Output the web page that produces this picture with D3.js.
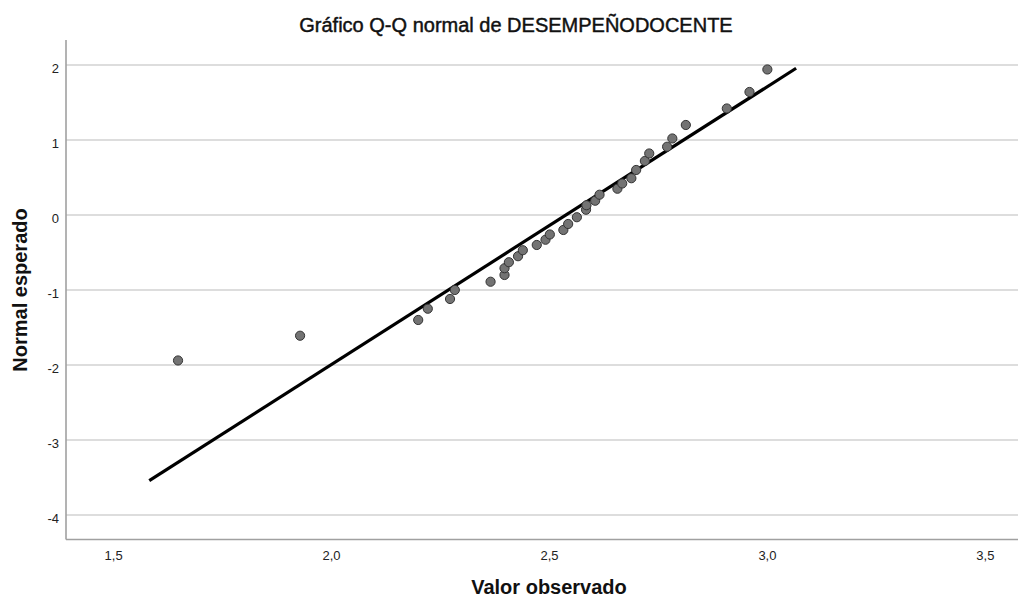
<!DOCTYPE html>
<html lang="es">
<head>
  <meta charset="UTF-8">
  <title>Gráfico Q-Q normal</title>
  <script src="https://d3js.org/d3.v7.min.js"></script>
  <style>
    body { margin: 0; background: white; }
    text { font-family: "Liberation Sans", Arial, sans-serif; }
    .tick text { font-size: 13px; fill: #222; }
  </style>
</head>
<body>
<svg id="qq" width="1023" height="598"></svg>

<script>
  const observed = [1.649, 1.929, 2.200, 2.222, 2.273, 2.284, 2.366, 2.398, 2.398, 2.408,
                    2.429, 2.440, 2.472, 2.492, 2.502, 2.533, 2.544, 2.564, 2.585, 2.586,
                    2.606, 2.616, 2.657, 2.668, 2.689, 2.700, 2.720, 2.730, 2.771, 2.783,
                    2.814, 2.908, 2.960, 3.001];
  const expected = [-1.94, -1.61, -1.40, -1.25, -1.12, -1.00, -0.89, -0.80, -0.71, -0.63,
                    -0.55, -0.47, -0.40, -0.33, -0.26, -0.20, -0.12, -0.03, 0.07, 0.13,
                    0.19, 0.27, 0.35, 0.42, 0.49, 0.60, 0.72, 0.82, 0.91, 1.02,
                    1.20, 1.42, 1.64, 1.94];

  // Reference line (ends as drawn)
  const lineX = [1.583, 3.067];
  const lineY = [-3.543, 1.956];

  const xTicks = [1.5, 2.0, 2.5, 3.0, 3.5];
  const yTicks = [-4, -3, -2, -1, 0, 1, 2];

  const plotLeft = 66, plotRight = 1018, plotTop = 40, plotBottom = 539.5;

  const svg = d3.select("#qq");

  const x = d3.scaleLinear().domain([1.392, 3.576]).range([plotLeft, plotRight]);
  const y = d3.scaleLinear().domain([-4.327, 2.333]).range([plotBottom, plotTop]);

  // SPSS style labels: comma decimals, plain hyphen for minus
  const es = d3.formatLocale({decimal: ",", thousands: ".", grouping: [3], currency: ["", "€"], minus: "-"});

  // Horizontal grid lines
  svg.append("g")
    .selectAll("line")
    .data(yTicks)
    .join("line")
    .attr("x1", plotLeft).attr("x2", plotRight)
    .attr("y1", d => y(d)).attr("y2", d => y(d))
    .attr("stroke", "#d2d2d2")
    .attr("stroke-width", 1.3);

  // Axes
  const yAxis = svg.append("g")
    .attr("transform", `translate(${plotLeft},0)`)
    .call(d3.axisLeft(y).tickValues(yTicks).tickSize(0).tickPadding(7).tickFormat(es.format("d")));
  yAxis.selectAll(".tick text").attr("dy", "0.55em");

  const xAxis = svg.append("g")
    .attr("transform", `translate(0,${plotBottom})`)
    .call(d3.axisBottom(x).tickValues(xTicks).tickSize(0).tickPadding(11).tickFormat(es.format(".1f")));

  [yAxis, xAxis].forEach(a => a.select(".domain").remove());

  svg.append("line")
    .attr("x1", plotLeft).attr("x2", plotLeft).attr("y1", plotTop).attr("y2", plotBottom)
    .attr("stroke", "#a0a0a0").attr("stroke-width", 1.6);
  svg.append("line")
    .attr("x1", plotLeft).attr("x2", plotRight).attr("y1", plotBottom).attr("y2", plotBottom)
    .attr("stroke", "#a0a0a0").attr("stroke-width", 1.6);

  // Reference line
  svg.append("line")
    .attr("x1", x(lineX[0])).attr("y1", y(lineY[0]))
    .attr("x2", x(lineX[1])).attr("y2", y(lineY[1]))
    .attr("stroke", "black")
    .attr("stroke-width", 3.2);

  // Points
  svg.append("g")
    .selectAll("circle")
    .data(observed.map((d, i) => [d, expected[i]]))
    .join("circle")
    .attr("cx", d => x(d[0]))
    .attr("cy", d => y(d[1]))
    .attr("r", 4.6)
    .attr("fill", "#737373")
    .attr("stroke", "#333")
    .attr("stroke-width", 1);

  // Titles
  svg.append("text")
    .attr("x", 516).attr("y", 32)
    .attr("text-anchor", "middle")
    .attr("font-size", 20)
    .attr("stroke", "#111").attr("stroke-width", 0.45)
    .attr("fill", "#111")
    .text("Gráfico Q-Q normal de DESEMPEÑODOCENTE");

  svg.append("text")
    .attr("x", 549).attr("y", 594)
    .attr("text-anchor", "middle")
    .attr("font-size", 20)
    .attr("font-weight", "bold")
    .attr("fill", "#111")
    .text("Valor observado");

  svg.append("text")
    .attr("transform", "translate(27,290) rotate(-90)")
    .attr("text-anchor", "middle")
    .attr("font-size", 20)
    .attr("font-weight", "bold")
    .attr("fill", "#111")
    .text("Normal esperado");
</script>
</body>
</html>
